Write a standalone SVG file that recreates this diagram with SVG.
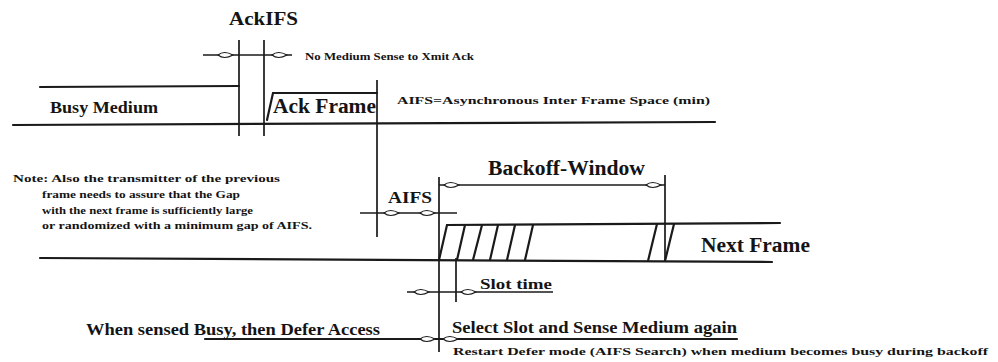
<svg xmlns="http://www.w3.org/2000/svg" width="998" height="362" viewBox="0 0 998 362">
<style>
text{font-family:"Liberation Serif","Times New Roman",serif;font-weight:bold;fill:#141414}
.sig{stroke:#1a1a1a;stroke-width:2.2;fill:none;stroke-linecap:round}
.v{stroke:#1a1a1a;stroke-width:1.7;fill:none}
.dim{stroke:#1a1a1a;stroke-width:1.6;fill:none}
.lens{fill:#fff;stroke:#1a1a1a;stroke-width:1.1}
</style>
<defs>
<path id="lens" class="lens" d="M0,0 Q6,-5 15,0 Q6,5 0,0 Z"/>
</defs>
<rect width="998" height="362" fill="#fff"/>

<g id="connectors">
  <path class="sig" d="M13,125 L715,122"/>
  <path class="sig" d="M40,87 L239,86"/>
  <path class="sig" d="M267,120 L273,93 L377,93"/>
  <path class="sig" d="M40,258 L772,262"/>
  <path class="sig" d="M439,260 L447,225 L780,223"/>
  <path class="sig" d="M457,260 L465,225 M473,260 L482,225 M490,260 L498,225 M507,260 L515,225 M525,260 L533,225"/>
  <path class="sig" d="M648,261 L657,224 M665,261 L674,224"/>
  <path class="v" d="M239,40 V136 M264,40 V136 M377,80 V237 M439,177 V352 M456,258 V302 M665,175 V262"/>
  <path class="dim" d="M203,55 H292"/>
  <path class="dim" d="M360,213 H457"/>
  <path class="dim" d="M439,185 H665"/>
  <path class="dim" d="M407,292 H553"/>
  <path class="sig" d="M205,339 H737"/>
  <use href="#lens" x="218" y="55"/>
  <use href="#lens" x="272" y="55"/>
  <use href="#lens" x="384" y="213"/>
  <use href="#lens" x="420" y="213"/>
  <use href="#lens" x="444" y="185"/>
  <use href="#lens" x="646" y="185"/>
  <use href="#lens" x="414" y="292"/>
  <use href="#lens" x="461" y="292"/>
  <use href="#lens" x="420" y="339"/>
  <use href="#lens" x="443" y="339"/>
</g>

<g id="ackifs">
  <text x="229" y="25" font-size="19" textLength="69" lengthAdjust="spacingAndGlyphs">AckIFS</text>
  <text x="305" y="60" font-size="10.5" textLength="169" lengthAdjust="spacingAndGlyphs">No Medium Sense to Xmit Ack</text>
</g>
<g id="busy-medium">
  <text x="50" y="113" font-size="16.5" textLength="108" lengthAdjust="spacingAndGlyphs">Busy Medium</text>
</g>
<g id="ack-frame">
  <text x="273" y="113" font-size="20" textLength="103" lengthAdjust="spacingAndGlyphs">Ack Frame</text>
</g>
<g id="aifs-def">
  <text x="397" y="104" font-size="10.5" textLength="313" lengthAdjust="spacingAndGlyphs">AIFS=Asynchronous Inter Frame Space (min)</text>
</g>
<g id="note">
  <text x="13" y="182" font-size="10.5" textLength="267" lengthAdjust="spacingAndGlyphs">Note: Also the transmitter of the previous</text>
  <text x="42" y="198" font-size="10.5" textLength="198" lengthAdjust="spacingAndGlyphs">frame needs to assure that the Gap</text>
  <text x="42" y="214" font-size="10.5" textLength="211" lengthAdjust="spacingAndGlyphs">with the next frame is sufficiently large</text>
  <text x="42" y="229" font-size="10.5" textLength="270" lengthAdjust="spacingAndGlyphs">or randomized with a minimum gap of AIFS.</text>
</g>
<g id="aifs">
  <text x="388" y="203" font-size="17" textLength="44" lengthAdjust="spacingAndGlyphs">AIFS</text>
</g>
<g id="backoff-window">
  <text x="488" y="175" font-size="20" textLength="157" lengthAdjust="spacingAndGlyphs">Backoff-Window</text>
</g>
<g id="next-frame">
  <text x="701" y="252" font-size="20" textLength="109" lengthAdjust="spacingAndGlyphs">Next Frame</text>
</g>
<g id="slot-time">
  <text x="480" y="289" font-size="15" font-weight="normal" textLength="72" lengthAdjust="spacingAndGlyphs">Slot time</text>
</g>
<g id="defer">
  <text x="86" y="335" font-size="16" textLength="294" lengthAdjust="spacingAndGlyphs">When sensed Busy, then Defer Access</text>
</g>
<g id="select-slot">
  <text x="452" y="333" font-size="16" textLength="285" lengthAdjust="spacingAndGlyphs">Select Slot and Sense Medium again</text>
</g>
<g id="restart">
  <text x="453" y="355" font-size="10.5" textLength="535" lengthAdjust="spacingAndGlyphs">Restart Defer mode (AIFS Search)  when medium becomes busy during backoff</text>
</g>
</svg>
